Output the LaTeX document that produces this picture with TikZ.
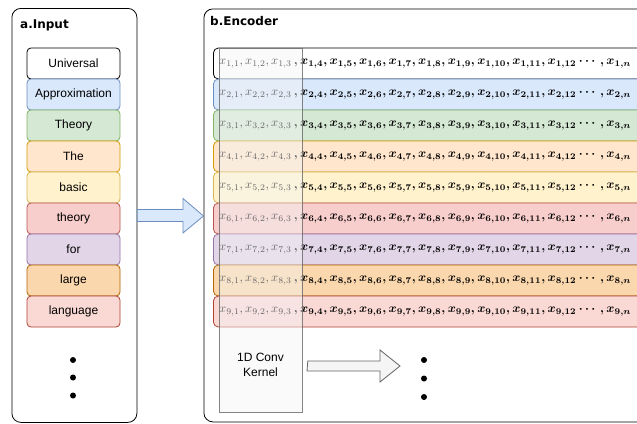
\documentclass[tikz,border=0pt]{standalone}
\usepackage{amsmath}
\usepackage{fontspec}
\setmainfont{Liberation Sans}
\newfontfamily\titlefont{DejaVu Sans}
\usetikzlibrary{calc}
\definecolor{bF}{HTML}{DAE8FC}\definecolor{bS}{HTML}{6C8EBF}
\definecolor{gF}{HTML}{D5E8D4}\definecolor{gS}{HTML}{82B366}
\definecolor{oF}{HTML}{FFE6CC}\definecolor{oS}{HTML}{D79B00}
\definecolor{yF}{HTML}{FFF2CC}\definecolor{yS}{HTML}{D6B656}
\definecolor{rF}{HTML}{F8CECC}\definecolor{rS}{HTML}{B85450}
\definecolor{pF}{HTML}{E1D5E7}\definecolor{pS}{HTML}{9673A6}
\definecolor{lF}{HTML}{FAD7AC}\definecolor{lS}{HTML}{B46504}
\definecolor{nF}{HTML}{FAD9D5}\definecolor{nS}{HTML}{AE4132}
\definecolor{kF}{HTML}{F5F5F5}\definecolor{kS}{HTML}{666666}
\newcommand{\rowtxt}[1]{\resizebox{412pt}{!}{$x_{#1,1},x_{#1,2},x_{#1,3}\,\boldsymbol{,x_{#1,4},x_{#1,5},x_{#1,6},x_{#1,7},x_{#1,8},x_{#1,9},x_{#1,10},x_{#1,11},x_{#1,12}\cdots,x_{#1,n}}$}}
\tikzset{
  panel/.style={draw=black, line width=0.8pt, rounded corners=9pt},
  wordbox/.style={rectangle, rounded corners=4pt, line width=0.8pt, minimum width=93pt, minimum height=31pt, inner sep=0pt, font=\fontsize{12}{14}\selectfont},
  rowbox/.style={rectangle, rounded corners=5pt, line width=0.8pt, minimum width=460pt, minimum height=31pt, inner sep=0pt},
  ptitle/.style={font=\titlefont\bfseries\fontsize{12}{14}\selectfont, anchor=west, inner sep=0pt},
  dotm/.style={circle, fill=black, inner sep=0pt, minimum size=6pt},
}
\begin{document}
\begin{tikzpicture}[x=1pt,y=-1pt]
\clip (0,0) rectangle (637,423);
\fill[white] (0,0) rectangle (637,423);
% panels
\node[panel, minimum width=125pt, minimum height=414pt, anchor=north west, inner sep=0pt] (inp) at (11.5,8) {};
\node[panel, minimum width=460pt, minimum height=413pt, anchor=north west, inner sep=0pt] (enc) at (203.5,8.5) {};
\node[ptitle] (tin) at (20,25) {a.Input};
\node[ptitle] (tenc) at (210,21) {b.Encoder};
% words
\foreach \i/\w/\f/\s in {1/Universal/white/black, 2/Approximation/bF/bS, 3/Theory/gF/gS, 4/The/oF/oS, 5/basic/yF/yS, 6/theory/rF/rS, 7/for/pF/pS, 8/large/lF/lS, 9/language/nF/nS}{
  \node[wordbox, fill=\f, draw=\s] (w\i) at (73.5,{48+15.5+31*(\i-1)}) {\w};
  \node[rowbox, fill=\f, draw=\s, anchor=west] (r\i) at (213,{48+15.5+31*(\i-1)}) {};
  \node[anchor=west, inner sep=0pt] (t\i) at (219,{48+15+31*(\i-1)}) {\rowtxt{\i}};
}
% dots
\node[dotm] (d1) at (73,360) {};
\node[dotm] (d2) at (73,377.5) {};
\node[dotm] (d3) at (73,395.5) {};
\node[dotm] (e1) at (424,360) {};
\node[dotm] (e2) at (424,378.5) {};
\node[dotm] (e3) at (424,397) {};
% kernel
\node[rectangle, fill=kF, fill opacity=0.42, draw=kS, draw opacity=0.8, line width=0.8pt, minimum width=83pt, minimum height=364pt, anchor=north west, inner sep=0pt] (ker) at (219,48) {};
\node[align=center, font=\fontsize{12}{15}\selectfont] (klab) at (260.5,365) {1D Conv\\Kernel};
% arrows
\draw[fill=bF, draw=bS, line width=0.8pt, line join=miter]
  (inp.east |- 0,209.5) -- (183,209.5) -- (183,198.5) -- (enc.west |- 0,216) -- (183,233) -- (183,221.5) -- (inp.east |- 0,221.5) -- cycle;
\draw[fill=kF, draw=kS, line width=0.8pt]
  (ker.east |- 0,361) ++(5,0) -- (380,361) -- (380,350) -- (400,366) -- (380,382) -- (380,371) -- (307,371) -- cycle;
\end{tikzpicture}
\end{document}
